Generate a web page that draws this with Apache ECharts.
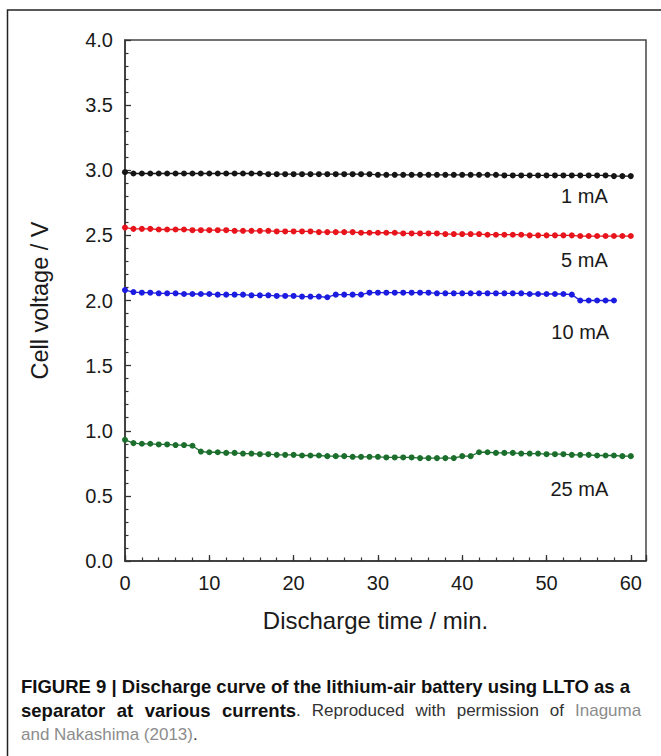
<!DOCTYPE html>
<html>
<head>
<meta charset="utf-8">
<script src="https://cdn.jsdelivr.net/npm/echarts@6/dist/echarts.min.js"></script>
<style>
html,body{margin:0;padding:0;background:#fff;}
#chart{width:661px;height:756px;}
</style>
</head>
<body>
<div id="chart"></div>
<script>
// ---- data ----
const time = [0,1,2,3,4,5,6,7,8,9,10,11,12,13,14,15,16,17,18,19,20,21,22,23,24,25,26,27,28,29,30,
  31,32,33,34,35,36,37,38,39,40,41,42,43,44,45,46,47,48,49,50,51,52,53,54,55,56,57,58,59,60];

const v1mA = [2.985,2.975,2.975,2.975,2.975,2.975,2.975,2.975,2.975,2.975,
  2.975,2.975,2.975,2.975,2.975,2.975,2.975,2.97,2.97,2.97,
  2.97,2.97,2.97,2.97,2.97,2.97,2.97,2.97,2.97,2.97,
  2.965,2.965,2.965,2.965,2.965,2.965,2.965,2.965,2.965,2.965,
  2.965,2.965,2.965,2.965,2.965,2.96,2.96,2.96,2.96,2.96,
  2.96,2.96,2.96,2.96,2.96,2.96,2.96,2.96,2.955,2.955,2.955];

const v5mA = [2.56,2.55,2.55,2.55,2.545,2.545,2.545,2.545,2.54,2.54,
  2.54,2.54,2.54,2.535,2.535,2.535,2.535,2.535,2.53,2.53,
  2.53,2.53,2.53,2.525,2.525,2.525,2.525,2.525,2.52,2.52,
  2.52,2.52,2.52,2.515,2.515,2.515,2.515,2.515,2.51,2.51,
  2.51,2.51,2.51,2.505,2.505,2.505,2.505,2.505,2.5,2.5,
  2.5,2.5,2.5,2.5,2.495,2.495,2.495,2.495,2.495,2.495,2.495];

const v10mA = [2.08,2.065,2.06,2.06,2.055,2.055,2.055,2.05,2.05,2.05,
  2.05,2.045,2.045,2.045,2.045,2.04,2.04,2.04,2.035,2.035,
  2.035,2.03,2.03,2.03,2.025,2.045,2.045,2.045,2.045,2.06,
  2.06,2.06,2.06,2.06,2.06,2.06,2.06,2.055,2.055,2.055,
  2.055,2.055,2.055,2.055,2.055,2.055,2.055,2.055,2.05,2.05,
  2.05,2.05,2.05,2.045,2.0,2.0,2.0,2.0,2.0];

const v25mA = [0.93,0.905,0.9,0.9,0.895,0.895,0.89,0.89,0.885,0.84,
  0.835,0.835,0.83,0.83,0.825,0.825,0.82,0.82,0.815,0.815,
  0.815,0.81,0.81,0.81,0.805,0.805,0.805,0.8,0.8,0.8,
  0.8,0.795,0.795,0.795,0.795,0.79,0.79,0.79,0.79,0.79,
  0.805,0.805,0.835,0.835,0.83,0.83,0.83,0.825,0.825,0.825,
  0.82,0.82,0.82,0.815,0.815,0.815,0.81,0.81,0.81,0.805,0.805];

const seriesNames = ['1 mA','5 mA','10 mA','25 mA'];
const seriesValues = [v1mA, v5mA, v10mA, v25mA];
const seriesColors = ['#151515','#e8141c','#1c1ce0','#1b6e2c'];
// label anchors in data units (time, voltage)
const labelTime = [54.5, 54.5, 54.0, 53.9];
const labelVolt = [2.80, 2.31, 1.76, 0.55];

const xTicks = [0,10,20,30,40,50,60];
const yTickStep = 0.5;

const FONT = '"Liberation Sans", Arial, Helvetica, sans-serif';

const chart = echarts.init(document.getElementById('chart'), null, {renderer:'svg'});

function pairs(vals){ return vals.map((v,i)=>[time[i], v]); }

const series = seriesValues.map((vals, k) => ({
  name: seriesNames[k],
  type: 'line',
  xAxisIndex: 0,
  data: pairs(vals),
  symbol: 'circle',
  symbolSize: 6,
  showSymbol: true,
  lineStyle: {color: seriesColors[k], width: 1.3},
  itemStyle: {color: seriesColors[k]},
  emphasis: {disabled: true},
  markPoint: {
    symbol: 'circle', symbolSize: 0,
    silent: true,
    label: {show: true, position: 'inside', formatter: seriesNames[k],
      fontSize: 20, color: '#1a1a1a', fontFamily: FONT},
    data: [{coord: [labelTime[k], labelVolt[k]]}]
  }
}));

const xMax = 61.8;

// caption, line 2 is justified like the reference (wider word gaps)
const captionLine1 = '{b|FIGURE 9 | Discharge curve of the lithium-air battery using LLTO as a}';
const captionLine2 = '{b|separator}{sb| }{b|at}{sb| }{b|various}{sb| }{b|currents}{n|.}{s| }' +
  '{n|Reproduced}{s| }{n|with}{s| }{n|permission}{s| }{n|of}{s| }{l|Inaguma}';
const captionLine3 = '{l|and Nakashima (2013)}{n|.}';

chart.setOption({
  backgroundColor: '#ffffff',
  animation: false,
  grid: {left: 125, top: 40, right: 15, bottom: 195, show: true,
    borderColor: '#444', borderWidth: 1.5, outerBoundsMode: 'none', containLabel: false},
  xAxis: [{
    type: 'value', min: 0, max: xMax, interval: 10,
    axisLine: {show: true, lineStyle: {color: '#333', width: 1.5}},
    axisTick: {show: true, inside: true, length: 6, lineStyle: {color: '#333', width: 1.3}},
    splitLine: {show: false},
    axisLabel: {fontSize: 20, color: '#1a1a1a', margin: 12, fontFamily: FONT,
      formatter: v => (xTicks.indexOf(v) >= 0 ? String(v) : '')},
    name: 'Discharge time / min.', nameLocation: 'middle', nameGap: 47,
    nameTextStyle: {fontSize: 24, color: '#1a1a1a', fontFamily: FONT, padding: [0, 20, 0, 0]}
  }, {
    type: 'value', min: 0, max: xMax, interval: 2, position: 'bottom', gridIndex: 0,
    axisLine: {show: false},
    axisTick: {show: true, inside: true, length: 3.5, lineStyle: {color: '#333', width: 1.2}},
    axisLabel: {show: false}, splitLine: {show: false}
  }],
  yAxis: {
    type: 'value', min: 0, max: 4, interval: yTickStep,
    axisLine: {show: true, lineStyle: {color: '#333', width: 1.5}},
    axisTick: {show: true, inside: true, length: 6, lineStyle: {color: '#333', width: 1.3}},
    minorTick: {show: true, splitNumber: 5, length: 3.5, lineStyle: {color: '#333', width: 1.2}},
    splitLine: {show: false}, minorSplitLine: {show: false},
    axisLabel: {fontSize: 20, color: '#1a1a1a', margin: 12, fontFamily: FONT,
      formatter: v => v.toFixed(1)},
    name: 'Cell voltage / V', nameLocation: 'middle', nameGap: 73,
    nameTextStyle: {fontSize: 23.5, color: '#1a1a1a', fontFamily: FONT}
  },
  series: series,
  graphic: [
    {type: 'rect', silent: true, z: -1,
      shape: {x: 7.5, y: 10, width: 720, height: 820},
      style: {fill: 'none', stroke: '#222', lineWidth: 1.5}},
    {type: 'text', left: 21, top: 677, silent: true,
      style: {
        text: captionLine1 + '\n' + captionLine2 + '\n' + captionLine3,
        rich: {
          b: {fontSize: 18.5, fontWeight: 'bold', fill: '#111', fontFamily: FONT, lineHeight: 24},
          sb: {fontSize: 18.5, fontWeight: 'bold', fill: '#111', fontFamily: FONT, lineHeight: 24, width: 11.5},
          n: {fontSize: 17, fill: '#333', fontFamily: FONT, lineHeight: 24},
          s: {fontSize: 17, fill: '#333', fontFamily: FONT, lineHeight: 24, width: 11},
          l: {fontSize: 17, fill: '#8c8c8c', fontFamily: FONT, lineHeight: 24}
        }
      }}
  ]
});
</script>
</body>
</html>
